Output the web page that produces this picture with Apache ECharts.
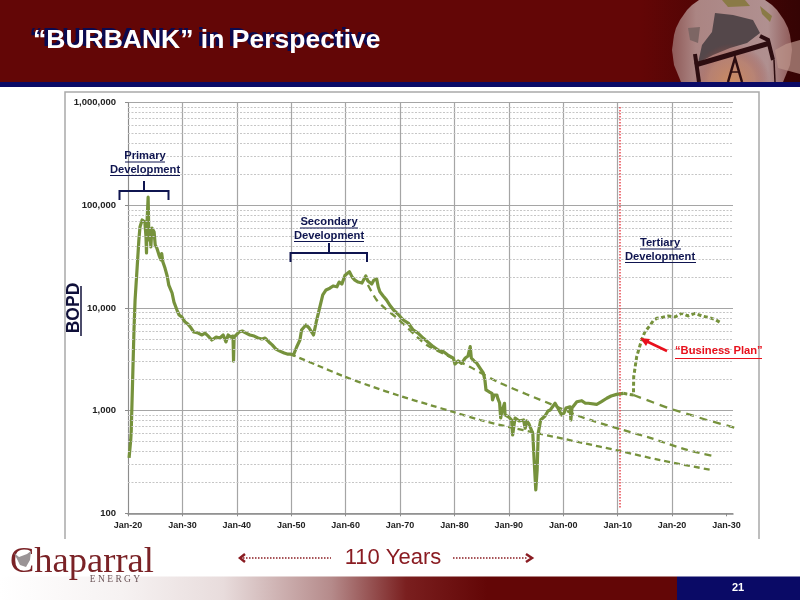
<!DOCTYPE html>
<html>
<head>
<meta charset="utf-8">
<title>BURBANK in Perspective</title>
<style>html,body{margin:0;padding:0;background:#fff}#chart{width:800px;height:600px}</style>
<script src="https://cdn.jsdelivr.net/npm/echarts@6/dist/echarts.min.js"></script>
</head>
<body>
<div id="chart"></div>
<script>
// axis ticks
var xTicks = [1920,1930,1940,1950,1960,1970,1980,1990,2000,2010,2020,2030];
var xTickLabels = ['Jan-20','Jan-30','Jan-40','Jan-50','Jan-60','Jan-70','Jan-80','Jan-90','Jan-00','Jan-10','Jan-20','Jan-30'];
var minorLevels = [200,300,400,500,600,700,800,900,2000,3000,4000,5000,6000,7000,8000,9000,
  20000,30000,40000,50000,60000,70000,80000,90000,200000,300000,400000,500000,600000,700000,800000,900000];

// historic production
var histYears = [1920.2,1920.5,1920.6,1920.75,1920.9,1921.1,1921.3,1921.65,1922,1922.2,1922.6,1922.95,1923.1,1923.3,1923.4,1923.5,1923.7,1923.85,1924.05,1924.2,1924.4,1924.8,1925,1925.3,1925.7,1926.05,1926.2,1926.4,1926.8,1927.2,1927.5,1928.1,1928.45,1929,1929.4,1929.9,1930.5,1931,1931.6,1932.1,1932.9,1933.6,1934.15,1934.7,1935.4,1936.2,1936.9,1937.5,1938,1938.4,1938.9,1939.3,1939.4,1939.5,1940.4,1941,1941.7,1942.4,1943.2,1943.9,1944.6,1945.2,1945.9,1946.5,1947.2,1947.9,1948.7,1949.4,
  1949.8,1950.4,1951,1951.6,1951.9,1952.7,1953.3,1954.1,1954.6,1955.2,1955.8,1956.4,1957.1,1957.7,1958.4,1958.8,1959.3,1959.9,1960.7,1961.2,1961.7,1962.3,1963,1963.7,1964.1,1964.8,1965.2,1965.7,1966,1966.3,1966.9,1967.5,1968.2,1968.8,1969.6,1970.6,1971.5,1972.4,1973.3,1974.3,1975.1,1976.1,1977,1978,1978.8,1979.8,1980.1,1980.7,1981.3,1982,1982.5,1982.9,1983.1,1983.6,1984.1,1984.7,1985.3,1985.6,1985.8,1986.4,1986.9,1987,1987.3,1987.8,1988,1988.3,1988.5,1988.7,1989.2,1989.3,1990,1990.5,1990.7,1990.95,1991.15,1991.9,1992.7,1993,1993.3,1993.7,1994,1994.4,1994.65,1994.95,1995.2,1995.4,1995.85,1996.65,1997.2,1997.6,1998.5,1999,1999.7,2000.15,2000.5,2001.25,2001.4,2001.6,2002.5,2003.4,2004,2004.6,2006.15,2006.95,2008,2008.8,2009.8,2011.05];
var histBopd = [346,518,647,1270,2490,6100,11970,23400,46000,61500,72000,73500,68800,50200,34400,68800,120000,46000,55000,39300,60100,55000,41100,38400,32800,29400,33800,28200,24500,20500,16700,14000,11400,9550,8550,8170,7300,6980,6380,5830,5700,5460,5700,5350,4880,5210,5100,5460,4670,5460,5210,5330,3040,5210,5830,5970,5700,5460,5330,5100,4990,5100,4670,4370,3980,3800,3640,3550,
  3565,3480,4170,4880,6110,6830,6380,5460,7310,9930,13400,15000,15600,16400,16100,17900,17100,20900,22600,20000,18700,17900,17500,20500,18300,17100,18700,19200,16000,14400,13100,12000,10500,9550,8750,7640,7140,6110,5700,5070,4670,4200,3900,3750,3480,3240,2850,3050,2890,3260,3410,4200,3260,3050,2910,2600,2330,1990,1590,1520,1475,1270,1420,1420,1300,1190,850,970,1180,910,867,811,579,725,848,793,811,673,793,741,775,601,330,169,264,601,811,887,993,1015,1180,1060,908,949,1060,1090,811,1060,1220,1250,1186,1180,1150,1215,1320,1390,1440,1475];

// business plan
var planYears = [2011.05,2011.7,2012.9,2012.95,2013.5,2014.4,2015,2016,2016.5,2017.2,2017.8,2019.3,2020.55,2021.8,2022.9,2024.2,2025.5,2026.7,2027.9,2029.1];
var planBopd = [1475,1450,1420,2140,3360,4880,5840,6830,7470,7940,8000,8360,8170,8880,8360,8880,8360,8110,7730,7100];

// decline curves
var primaryYears = [1949.8,1954.6,1959.5,1964.5,1970,1975.5,1979.8,1984.7,1990.2,1995.1,2003.1,2010.4,2017.8,2027.3];
var primaryBopd = [3565,2790,2178,1740,1390,1135,970,811,690,605,491,405,330,264];
var secondaryYears = [1964.1,1965.7,1967.4,1969.4,1973.1,1974.9,1978.3,1982.9,1988.4,1998.1,2003.1,2010.4,2016,2022.8,2027.5];
var secondaryBopd = [16750,11970,9770,8000,5250,4360,3520,2660,1860,1135,877,662,542,414,362];
var baseYears = [2012.9,2019.3,2026.4,2034.3];
var baseBopd = [1420,1060,811,620];

function pairs(xs, ys){
  return xs.map(function(x,i){ return [x, ys[i]]; });
}

var GREEN = '#76923c';
var NAVY = '#0f1550';
var RED = '#e8101c';
var MAROON = '#630606';
var LABEL_FONT = 'bold 11.2px "Liberation Sans", Arial, sans-serif';
var TITLE = '\u201cBURBANK\u201d in Perspective';

function label(text, x, y, color){
  return {type:'text', z:20, style:{text:text, x:x, y:y, fill:color||NAVY, font:LABEL_FONT, textAlign:'center', textVerticalAlign:'middle'}};
}
function seg(x1,y1,x2,y2,color,w){
  return {type:'line', z:20, shape:{x1:x1,y1:y1,x2:x2,y2:y2}, style:{stroke:color,lineWidth:w||1}};
}
function poly(points,color,w,z){
  return {type:'polyline', z:z||20, shape:{points:points}, style:{stroke:color,lineWidth:w||2,fill:null}};
}
function solid(points,color,z){
  return {type:'polygon', z:z||3, shape:{points:points}, style:{fill:color}};
}

var graphics = [
  // header band
  {type:'rect', z:1, shape:{x:0,y:0,width:800,height:82}, style:{fill:MAROON}},
  {type:'rect', z:1, shape:{x:640,y:0,width:160,height:82}, style:{fill:{type:'linear',x:0,y:0,x2:1,y2:0,colorStops:[{offset:0,color:MAROON},{offset:1,color:'#350404'}]}}},
  // globe, cut off by the header edges
  {type:'polygon', z:2, shape:{points:[[699,0],[692,5],[687,10],[680,20],[676,28],[674,35],[672,50],[674,65],[681,82],[783,82],[790,65],[792,50],[790,35],[788,28],[784,20],[777,10],[772,5],[765,0]]},
    style:{fill:{type:'linear',x:0,y:0,x2:1,y2:0,colorStops:[{offset:0,color:'#8f5a58'},{offset:0.2,color:'#ab8583'},{offset:0.8,color:'#b09090'},{offset:1,color:'#8f5a58'}]}}},
  solid([[715,13],[733,15],[753,20],[760,33],[747,43],[730,48],[713,55],[698,63],[702,45],[712,32]],'#54474a'),
  solid([[688,28],[700,27],[698,43],[690,40]],'#7d6664'),
  solid([[722,0],[745,0],[750,6],[728,7]],'#8a7a46'),
  solid([[760,6],[772,16],[770,22],[762,14]],'#8a7a46'),
  // orange glow low on the right
  {type:'rect', z:4, shape:{x:620,y:20,width:180,height:62}, style:{fill:{type:'radial',x:0.62,y:1,r:0.62,colorStops:[{offset:0,color:'rgba(205,140,95,0.95)'},{offset:0.6,color:'rgba(190,125,100,0.6)'},{offset:1,color:'rgba(150,60,55,0)'}]}}},
  solid([[775,50],[786,44],[800,40],[800,74],[778,68]],'rgba(190,150,140,0.7)',4),
  // pump jack
  poly([[695,65],[770,43]],'#2d0d10',5,5),
  poly([[760,36],[768,40],[773,60]],'#2d0d10',4,5),
  poly([[695,54],[699,82]],'#2d0d10',4,5),
  poly([[774,60],[775,82]],'#2d0d10',1.5,5),
  poly([[728,82],[735,58],[742,82]],'#2d0d10',2.5,5),
  poly([[731,72],[740,72]],'#2d0d10',1.5,5),
  {type:'rect', z:6, shape:{x:0,y:82,width:800,height:5}, style:{fill:'#0a0a66'}},
  // title drop shadow, the title itself is the chart title
  {type:'text', z:7, style:{text:TITLE, x:29.5, y:38.5, fill:'#0a0a50', font:'bold 26.5px "Liberation Sans", Arial, sans-serif', textAlign:'left', textVerticalAlign:'middle'}},
  // chart frame
  poly([[65,539],[65,92],[759,92],[759,539]],'#a9a9a9',1.5,2),
  // brackets
  poly([[119.5,200],[119.5,191],[168.5,191],[168.5,200]],NAVY,2),
  poly([[144,191],[144,181]],NAVY,2),
  poly([[290.5,262],[290.5,253],[367,253],[367,262]],NAVY,2),
  poly([[329,253],[329,243]],NAVY,2),
  // annotations
  label('Primary',145,156), seg(125,162,165,162,NAVY),
  label('Development',145,170), seg(110,175.5,180,175.5,NAVY),
  label('Secondary',329,222), seg(300,228,358,228,NAVY),
  label('Development',329,236), seg(294,241.5,364,241.5,NAVY),
  label('Tertiary',660,243), seg(640,249,681,249,NAVY),
  label('Development',660,257), seg(625,262.5,696,262.5,NAVY),
  seg(81,286,81,336,'#10103a',1.5),
  // business plan callout
  {type:'text', z:20, style:{text:'\u201cBusiness Plan\u201d', x:675, y:351, fill:RED, font:LABEL_FONT, textAlign:'left', textVerticalAlign:'middle'}},
  seg(675,358.5,762,358.5,RED),
  seg(667,351,646,341,RED,2.5),
  solid([[640,338],[650,339],[646,346]],RED,20),
  // 110 years
  {type:'text', z:20, style:{text:'110 Years', x:393, y:558, fill:'#8a1c22', font:'22px "Liberation Sans", Arial, sans-serif', textAlign:'center', textVerticalAlign:'middle'}},
  {type:'line', z:20, shape:{x1:243,y1:558,x2:331,y2:558}, style:{stroke:'#8a1c22',lineWidth:1.5,lineDash:[1.5,1.5]}},
  {type:'line', z:20, shape:{x1:453,y1:558,x2:528,y2:558}, style:{stroke:'#8a1c22',lineWidth:1.5,lineDash:[1.5,1.5]}},
  poly([[245,554],[240,558],[245,562]],'#8a1c22',2.5),
  poly([[526,554],[532,558],[526,562]],'#8a1c22',2.5),
  // footer
  {type:'rect', z:1, shape:{x:0,y:576.5,width:677,height:23.5}, style:{fill:{type:'linear',x:0,y:0,x2:1,y2:0,colorStops:[{offset:0,color:'#ffffff'},{offset:0.18,color:'#f6f2f2'},{offset:0.33,color:'#e8dcdc'},{offset:0.49,color:'#b58a8a'},{offset:0.6,color:'#7a1f1f'},{offset:0.72,color:MAROON},{offset:1,color:MAROON}]}}},
  {type:'rect', z:1, shape:{x:677,y:576.5,width:123,height:23.5}, style:{fill:'#0a0a66'}},
  {type:'text', z:20, style:{text:'21', x:738, y:588, fill:'#fff', font:'bold 11px "Liberation Sans", Arial, sans-serif', textAlign:'center', textVerticalAlign:'middle'}},
  // logo
  {type:'text', z:20, style:{text:'Chaparral', x:10, y:562, fill:'#7a2226', font:'36.5px "Liberation Serif", "Times New Roman", serif', textAlign:'left', textVerticalAlign:'middle'}},
  solid([[14,553],[19,557],[27,554],[31,551],[30,560],[26,567],[20,565]],'#9a9496',21),
  {type:'text', z:20, style:{text:'E N E R G Y', x:115, y:579, fill:'#6b5558', font:'9.5px "Liberation Serif", "Times New Roman", serif', textAlign:'center', textVerticalAlign:'middle'}}
];

var chart = echarts.init(document.getElementById('chart'));
chart.setOption({
  backgroundColor:'#ffffff',
  animation:false,
  title:{
    text:TITLE,
    left:28, top:22,
    z:8,
    textStyle:{color:'#fff',fontSize:26.5,fontWeight:'bold',fontFamily:'"Liberation Sans", Arial, sans-serif'}
  },
  graphic:{elements:graphics},
  grid:{left:128,right:67,top:102.7,bottom:86.7,containLabel:false},
  xAxis:{
    type:'value',min:1920,max:2031.2,interval:10,
    axisLine:{onZero:false,lineStyle:{color:'#8c8c8c',width:1.5}},
    axisTick:{length:3,customValues:xTicks,lineStyle:{color:'#8c8c8c'}},
    axisLabel:{customValues:xTicks,margin:8,color:'#222',fontSize:9,fontWeight:'bold',fontFamily:'"Liberation Sans", Arial, sans-serif',
      formatter:function(v){ return xTickLabels[xTicks.indexOf(v)]; }},
    splitLine:{show:true,showMaxLine:false,lineStyle:{color:'#a5a5a5',width:1.2}}
  },
  yAxis:{
    type:'log',logBase:10,min:100,max:1000000,
    name:'BOPD',nameLocation:'middle',nameGap:45,nameRotate:90,nameMoveOverlap:false,
    nameTextStyle:{color:'#10103a',fontSize:17.5,fontWeight:'bold',fontFamily:'"Liberation Sans", Arial, sans-serif'},
    axisLine:{show:true,lineStyle:{color:'#8c8c8c',width:1}},
    axisTick:{show:true,length:3,lineStyle:{color:'#8c8c8c'}},
    axisLabel:{margin:12,color:'#222',fontSize:9.5,fontWeight:'bold',fontFamily:'"Liberation Sans", Arial, sans-serif',
      formatter:function(v){ return Math.round(v).toLocaleString('en-US'); }},
    splitLine:{show:true,lineStyle:{color:'#a5a5a5',width:1.2}}
  },
  series:[
    {type:'line',name:'grid',data:[],silent:true,z:1,
      markLine:{silent:true,symbol:'none',animation:false,label:{show:false},
        lineStyle:{color:'#c6c6c6',width:1,type:[2,1.5]},
        data:minorLevels.map(function(v){ return {yAxis:v}; })}},
    {type:'line',name:'Primary decline',data:pairs(primaryYears,primaryBopd),showSymbol:false,smooth:0.3,z:3,
      lineStyle:{color:GREEN,width:2.3,type:[6,4]}},
    {type:'line',name:'Secondary decline',data:pairs(secondaryYears,secondaryBopd),showSymbol:false,smooth:0.3,z:3,
      lineStyle:{color:GREEN,width:2.3,type:[7,5]}},
    {type:'line',name:'Base decline',data:pairs(baseYears,baseBopd),showSymbol:false,clip:false,z:3,
      lineStyle:{color:GREEN,width:2.3,type:[8,6]}},
    {type:'line',name:'Production',data:pairs(histYears,histBopd),showSymbol:false,z:4,
      lineStyle:{color:GREEN,width:3.2,join:'round'}},
    {type:'line',name:'Business Plan',data:pairs(planYears,planBopd),showSymbol:false,z:4,
      lineStyle:{color:GREEN,width:3,type:[4,2.5]},
      markLine:{silent:true,symbol:'none',animation:false,label:{show:false},
        lineStyle:{color:'#e8474f',width:1.5,type:[1.5,1.5]},
        data:[[{coord:[2010.4,908000]},{coord:[2010.4,113]}]]}}
  ]
});
</script>
</body>
</html>
